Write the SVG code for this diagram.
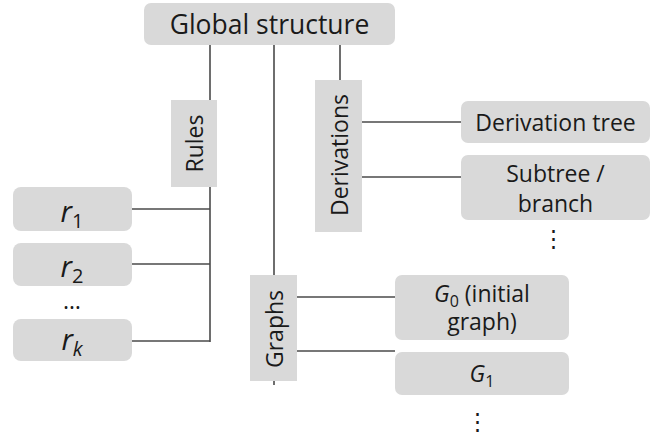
<svg xmlns="http://www.w3.org/2000/svg" width="658" height="437" viewBox="0 0 658 437">
<style>
.box{fill:#d9d9d9}
.t{font-family:"Open Sans","Noto Sans",sans-serif;fill:#1a1a1a;font-size:23px}
.big{font-size:26.5px}
.r{font-size:29px}
.rs{font-size:20px}
.gs{font-size:16px}
.c line{stroke:#4a4a4a;stroke-width:1.6}
.i{font-style:italic}
</style>
<rect width="658" height="437" fill="#fff"/>
<g class="c" id="connectors">
<line x1="210" y1="45" x2="210" y2="342"/>
<line x1="274" y1="45" x2="274" y2="385"/>
<line x1="340" y1="45" x2="340" y2="80"/>
<line x1="132" y1="209" x2="210" y2="209"/>
<line x1="132" y1="264" x2="210" y2="264"/>
<line x1="132" y1="341" x2="210" y2="341"/>
<line x1="362" y1="122" x2="461" y2="122"/>
<line x1="362" y1="177" x2="461" y2="177"/>
<line x1="297" y1="297" x2="395" y2="297"/>
<line x1="297" y1="351" x2="395" y2="351"/>
</g>
<g id="global">
<rect class="box" x="144" y="3" width="251" height="42" rx="7"/>
<text class="t big" x="269.5" y="34" text-anchor="middle">Global structure</text>
</g>
<g id="rules">
<rect class="box" x="171" y="100" width="46" height="87"/>
<text class="t" transform="translate(203,143.5) rotate(-90)" text-anchor="middle">Rules</text>
</g>
<g id="derivations">
<rect class="box" x="315" y="80" width="47" height="152"/>
<text class="t" transform="translate(348,155) rotate(-90)" text-anchor="middle">Derivations</text>
</g>
<g id="graphs">
<rect class="box" x="250" y="275" width="47" height="106"/>
<text class="t" transform="translate(283,329) rotate(-90)" text-anchor="middle">Graphs</text>
</g>
<g id="r1">
<rect class="box" x="13" y="187" width="119" height="44" rx="8"/>
<text class="t r" x="72" y="222" text-anchor="middle"><tspan class="i">r</tspan><tspan class="rs" dy="6">1</tspan></text>
</g>
<g id="r2">
<rect class="box" x="13" y="243" width="119" height="43" rx="8"/>
<text class="t r" x="72" y="277" text-anchor="middle"><tspan class="i">r</tspan><tspan class="rs" dy="6">2</tspan></text>
</g>
<text class="t" x="72" y="309" text-anchor="middle">…</text>
<g id="rk">
<rect class="box" x="13" y="319" width="119" height="42" rx="8"/>
<text class="t r" x="72" y="350" text-anchor="middle"><tspan class="i">r</tspan><tspan class="i rs" dy="6">k</tspan></text>
</g>
<g id="derivation-tree">
<rect class="box" x="461" y="101" width="189" height="42" rx="7"/>
<text class="t" x="555.5" y="131" text-anchor="middle">Derivation tree</text>
</g>
<g id="subtree">
<rect class="box" x="461" y="155" width="189" height="65" rx="7"/>
<text class="t" x="555.5" y="182" text-anchor="middle">Subtree /</text>
<text class="t" x="555.5" y="212" text-anchor="middle">branch</text>
</g>
<text class="t" x="553" y="246" text-anchor="middle">⋮</text>
<g id="g0">
<rect class="box" x="395" y="275" width="174" height="65" rx="7"/>
<text class="t" x="482" y="302" text-anchor="middle"><tspan class="i">G</tspan><tspan class="gs" dy="5">0</tspan><tspan dy="-5"> (initial</tspan></text>
<text class="t" x="482" y="330" text-anchor="middle">graph)</text>
</g>
<g id="g1">
<rect class="box" x="395" y="352" width="174" height="43" rx="7"/>
<text class="t" x="482" y="382" text-anchor="middle"><tspan class="i">G</tspan><tspan class="gs" dy="5">1</tspan></text>
</g>
<text class="t" x="477" y="429" text-anchor="middle">⋮</text>
</svg>
